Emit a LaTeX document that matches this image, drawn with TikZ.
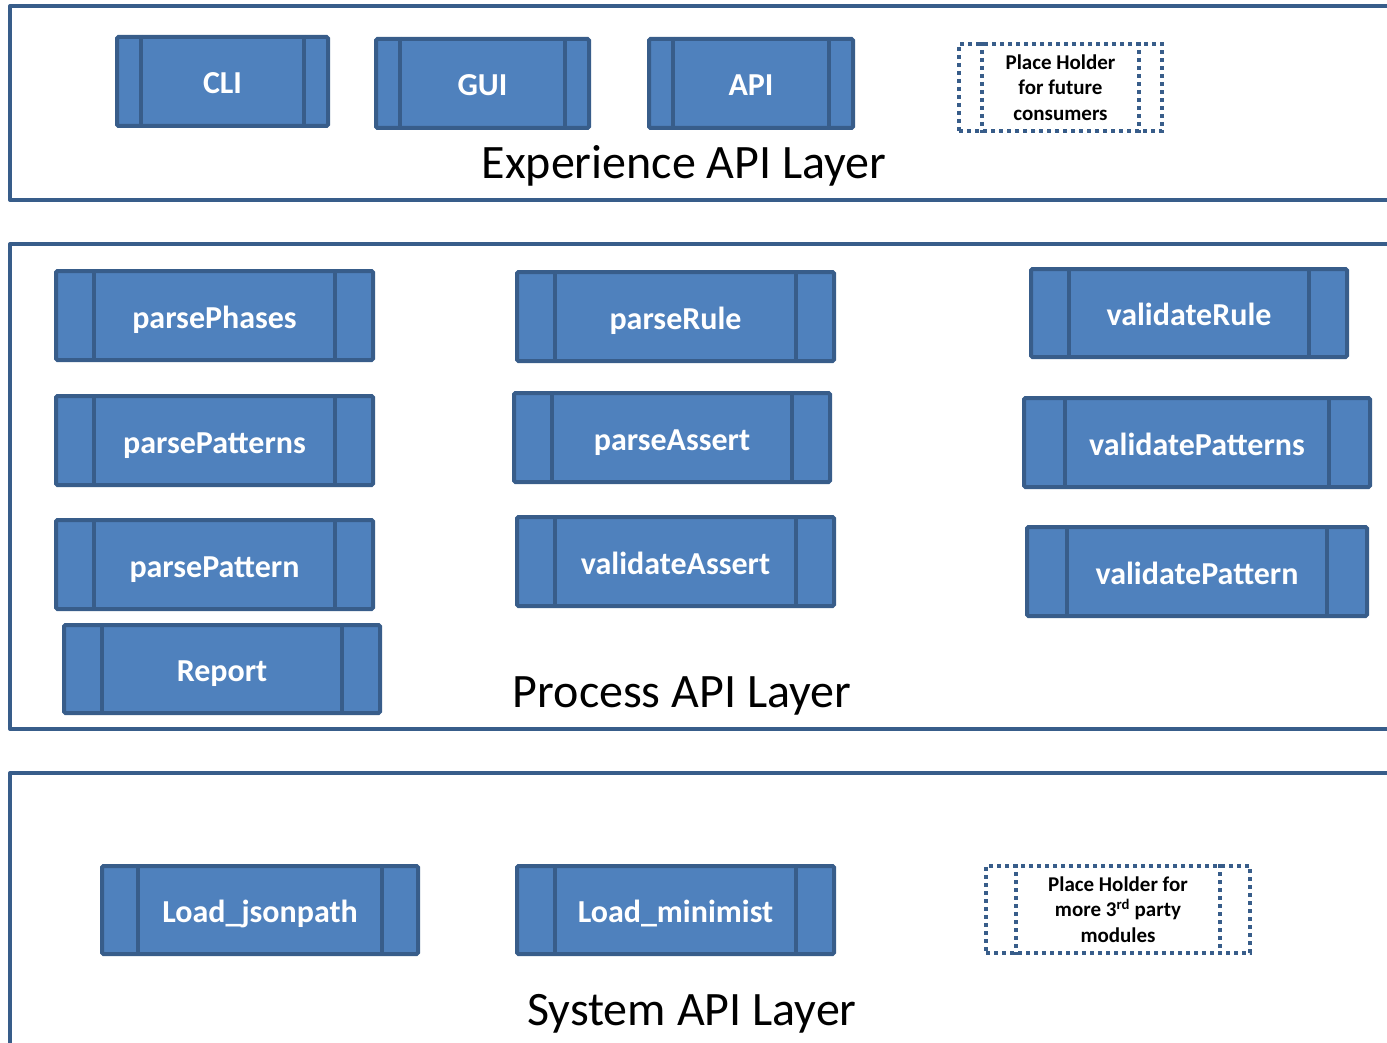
\documentclass[tikz,border=0pt]{standalone}
\usepackage{fontspec}
\setmainfont{Carlito}
\definecolor{boxfill}{HTML}{4F81BD}
\definecolor{boxline}{HTML}{385D8A}
\tikzset{
  proc/.style={draw=boxline, fill=boxfill, line width=4pt, rounded corners=1.5pt,
    text=white, font=\fontsize{32}{36}\selectfont\bfseries, inner sep=0pt,
    text height=26pt, text depth=1pt},
  ph/.style={draw=boxline, line width=4pt, dash pattern=on 4pt off 4pt,
    text=black, align=center, font=\fontsize{21}{25.5}\selectfont\bfseries, inner sep=0pt},
  inner/.style={draw=boxline, line width=4pt},
  innerph/.style={draw=boxline, line width=4pt, dash pattern=on 4pt off 4pt},
  layer/.style={draw=boxline, line width=4pt, line join=round},
  title/.style={font=\fontsize{48}{52}\selectfont, anchor=base, inner sep=0pt},
}
\newcommand{\sidelines}[3]{%
  \draw[#3] ([xshift=#2 pt]#1.north west) -- ([xshift=#2 pt]#1.south west);
  \draw[#3] ([xshift=-#2 pt]#1.north east) -- ([xshift=-#2 pt]#1.south east);}
\begin{document}
\begin{tikzpicture}[x=1pt,y=-1pt]
\useasboundingbox (0,0) rectangle (1387,1043);
% layers
\draw[layer] (1387,6) -- (10,6) -- (10,200) -- (1387,200);
\draw[layer] (1387,244) -- (10,244) -- (10,729) -- (1387,729);
\draw[layer] (1387,773) -- (10,773) -- (10,1043);
% experience layer
\node[proc, minimum width=211, minimum height=89] (cli) at (222.5,81.5) {CLI};
\sidelines{cli}{26}{inner}
\node[proc, minimum width=213, minimum height=89] (gui) at (482.5,83.5) {GUI};
\sidelines{gui}{26}{inner}
\node[proc, minimum width=204, minimum height=89] (api) at (751,83.5) {API};
\sidelines{api}{26}{inner}
\node[ph, minimum width=203, minimum height=87] (ph1) at (1060.5,87.5) {Place Holder\\for future\\consumers};
\sidelines{ph1}{25}{innerph}
\node[title] (exp) at (684,179) {Experience API Layer};
% process layer
\node[proc, minimum width=317, minimum height=89] (pphases) at (214.5,315.5) {parsePhases};
\sidelines{pphases}{40}{inner}
\node[proc, minimum width=317, minimum height=89] (ppatterns) at (214.5,440.5) {parsePatterns};
\sidelines{ppatterns}{40}{inner}
\node[proc, minimum width=317, minimum height=89] (ppattern) at (214.5,564.5) {parsePattern};
\sidelines{ppattern}{40}{inner}
\node[proc, minimum width=316, minimum height=88] (report) at (222,669) {Report};
\sidelines{report}{40}{inner}
\node[proc, minimum width=317, minimum height=89] (prule) at (675.5,316.5) {parseRule};
\sidelines{prule}{40}{inner}
\node[proc, minimum width=316, minimum height=89] (passert) at (672,437.5) {parseAssert};
\sidelines{passert}{40}{inner}
\node[proc, minimum width=317, minimum height=89] (vassert) at (675.5,561.5) {validateAssert};
\sidelines{vassert}{40}{inner}
\node[proc, minimum width=316, minimum height=88] (vrule) at (1189,313) {validateRule};
\sidelines{vrule}{40}{inner}
\node[proc, minimum width=346, minimum height=89] (vpatterns) at (1197,442.5) {validatePatterns};
\sidelines{vpatterns}{43}{inner}
\node[proc, minimum width=340, minimum height=89] (vpattern) at (1197,571.5) {validatePattern};
\sidelines{vpattern}{42}{inner}
\node[title] (proc) at (682,707.5) {Process API Layer};
% system layer
\node[proc, minimum width=316, minimum height=88] (ljson) at (260,910) {Load\_jsonpath};
\sidelines{ljson}{38}{inner}
\node[proc, minimum width=317, minimum height=88] (lmini) at (675.5,910) {Load\_minimist};
\sidelines{lmini}{40}{inner}
\node[ph, minimum width=264, minimum height=87] (ph2) at (1118,909.5) {Place Holder for\\more 3\textsuperscript{rd} party\\modules};
\sidelines{ph2}{32}{innerph}
\node[title] (sys) at (692,1025) {System API Layer};
\end{tikzpicture}
\end{document}
